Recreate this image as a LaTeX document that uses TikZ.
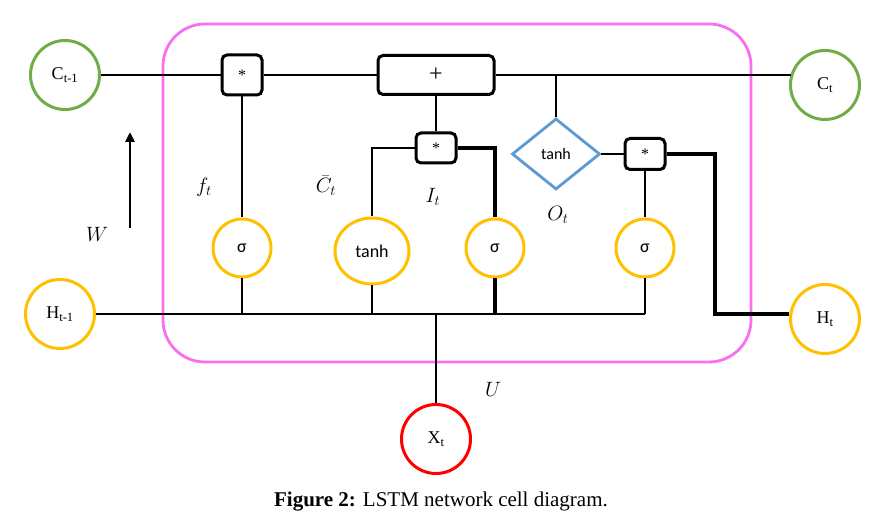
\documentclass[tikz,border=0pt]{standalone}
\usepackage{fontspec}
\setmainfont{Liberation Serif}
\newfontfamily\calib{Carlito}
\usetikzlibrary{shapes.geometric,arrows.meta}
\definecolor{cgreen}{RGB}{112,173,71}
\definecolor{corange}{RGB}{255,192,0}
\definecolor{cblue}{RGB}{91,155,213}
\definecolor{cred}{RGB}{255,0,0}
\definecolor{cpink}{RGB}{250,110,240}
\begin{document}
\begin{tikzpicture}[x=1pt,y=-1pt,
  conn/.style={line width=2.9pt},
  thickconn/.style={line width=4pt},
  io/.style={circle,line width=3pt,minimum size=69pt,inner sep=0pt,font=\fontsize{18}{18}\selectfont},
  gate/.style={circle,draw=corange,line width=3pt,minimum size=58pt,inner sep=0pt,font=\calib\fontsize{18}{18}\selectfont},
  opbox/.style={draw,rectangle,rounded corners=5pt,line width=3pt,inner sep=0pt,fill=white,font=\fontsize{16}{16}\selectfont},
  lbl/.style={font=\fontsize{20}{20}\selectfont},
]
\useasboundingbox (0,0) rectangle (876,526);
% cell boundary
\draw[cpink,line width=2.8pt,rounded corners=42pt] (163,24) rectangle (751,362);

% inputs/outputs
\node[io,draw=cgreen] (Cp) at (65,75) {C\textsubscript{t-1}};
\node[io,draw=cgreen] (Ct) at (825,85) {C\textsubscript{t}};
\node[io,draw=corange] (Hp) at (60,314) {H\textsubscript{t-1}};
\node[io,draw=corange] (Ht) at (825,319) {H\textsubscript{t}};
\node[io,draw=cred] (Xt) at (436,439) {X\textsubscript{t}};

% operation boxes
\node[opbox,minimum width=40pt,minimum height=40pt] (m1) at (242,75) {*};
\node[opbox,minimum width=116pt,minimum height=39pt,font=\fontsize{24}{24}\selectfont] (plus) at (436,75) {+};
\node[opbox,minimum width=40pt,minimum height=30pt] (m2) at (436,148) {*};
\node[opbox,minimum width=40pt,minimum height=31pt] (m3) at (645,154) {*};

% gates
\node[gate] (s1) at (242,248) {σ};
\node[gate,ellipse,minimum width=74pt,minimum height=66pt] (t1) at (372,251) {tanh};
\node[gate] (s2) at (495,248) {σ};
\node[gate] (s3) at (645,248) {σ};
\node[diamond,draw=cblue,line width=2.8pt,minimum width=88pt,minimum height=71pt,inner sep=0pt,aspect=1.24,font=\calib\fontsize{16}{16}\selectfont] (d) at (556,154) {tanh};

% coordinates
\coordinate (bx) at (436,314);
\coordinate (b3) at (645,314);
\coordinate (o) at (715,314);
\coordinate (wa) at (130,228);
\coordinate (wb) at (130,132);

% cell state line
\draw[conn] (Cp.east) -- (m1.west);
\draw[conn] (m1.east) -- (plus.west);
\draw[conn] (plus.east) -- (Ct.163 |- plus.east);
% forget gate
\draw[conn] (m1.south) -- (s1.north);
\draw[conn] (s1.south) -- (s1.south |- Hp);
% input gate
\draw[conn] (plus.south) -- (m2.north);
\draw[conn] (t1.north) |- (m2.west);
\draw[thickconn] (s2.north) |- (m2.east);
\draw[conn] (t1.south) -- (t1.south |- Hp);
\draw[thickconn] (s2.south) -- (s2.south |- Hp);
% output
\draw[conn] (d.north) -- (d.north |- plus.east);
\draw[conn] (d.east) -- (m3.west);
\draw[conn] (m3.south) -- (s3.north);
\draw[conn] (s3.south) -- (b3);
\draw[thickconn] (m3.east) -| (o) -- (Ht.172 |- o);
% hidden line
\draw[conn] (Hp.east) -- (b3);
\draw[conn] (bx) -- (Xt.north);
% W arrow
\draw[conn,-{Triangle[length=10pt,width=9pt]}] (wa) -- (wb);

% labels
\node[lbl] (lf) at (204,187) {$f_t$};
\node[lbl] (lc) at (326,186) {$\bar{C}_t$};
\node[lbl] (li) at (433,197) {$I_t$};
\node[lbl] (lo) at (558,215) {$O_t$};
\node[lbl] (lw) at (97,234) {$W$};
\node[lbl] (lu) at (493,389) {$U$};

% caption
\node[font=\fontsize{21}{21}\selectfont] (cap) at (441,502) {\textbf{Figure 2:} LSTM network cell diagram.};
\end{tikzpicture}
\end{document}
